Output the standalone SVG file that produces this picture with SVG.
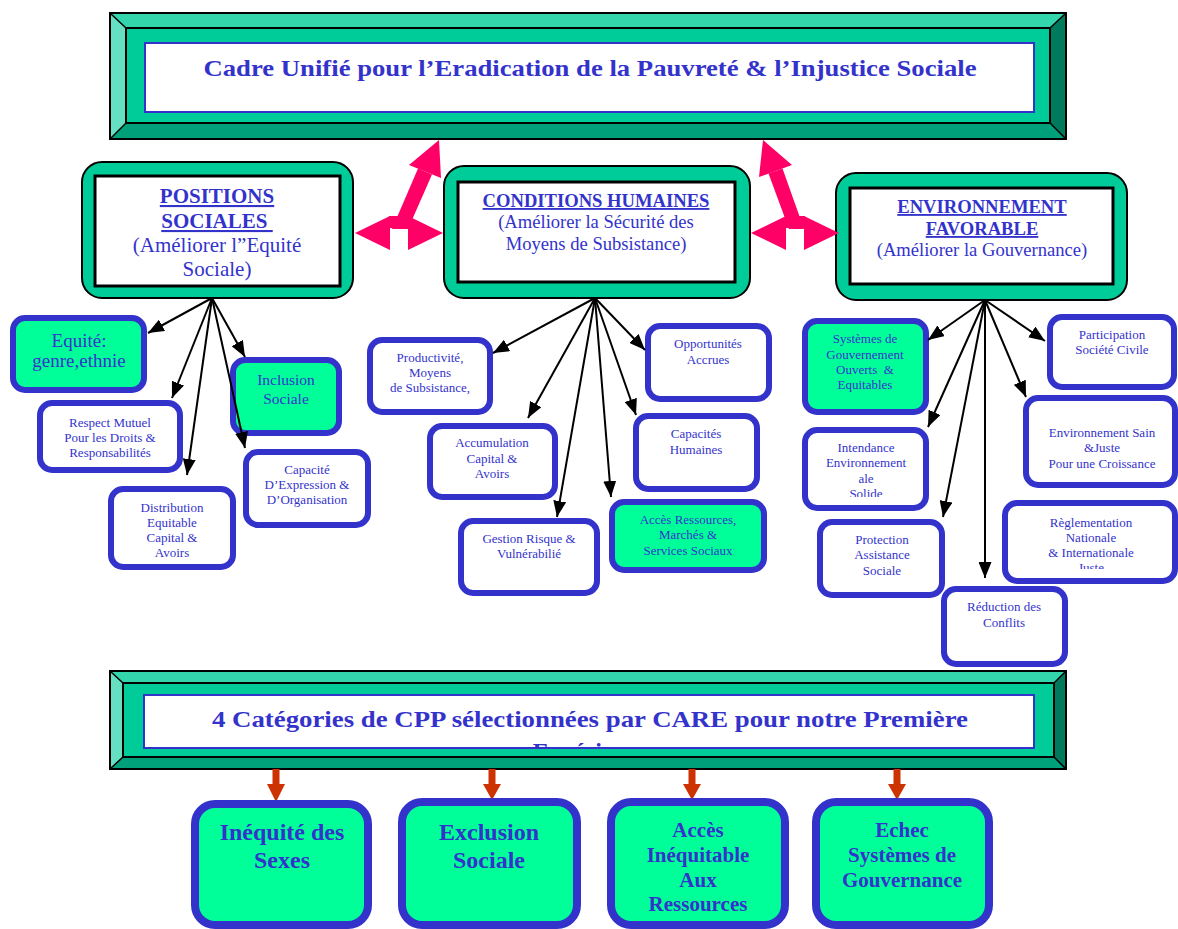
<svg xmlns="http://www.w3.org/2000/svg" width="1178" height="929" viewBox="0 0 1178 929">
<style>
text{font-family:"Liberation Serif","Times New Roman",serif;fill:#3333cc;text-anchor:middle}
.t{font-weight:bold;font-size:24px}
.h{font-weight:bold;font-size:18.6px;text-decoration:underline}
.hs{font-size:18.6px}
.hp{font-weight:bold;font-size:21px;text-decoration:underline}
.hps{font-size:21px}
.s{font-size:13px}
.m{font-size:15.5px}
.b{font-weight:bold;font-size:24px}
.b2{font-weight:bold;font-size:21px}
.nb{fill:#ffffff;stroke:#3333cc;stroke-width:6}
.ng{fill:#00ff99;stroke:#3333cc;stroke-width:6}
.nc{fill:#00ff99;stroke:#3333cc;stroke-width:8}
.mo{fill:#00cc99;stroke:#000;stroke-width:2}
.mi{fill:#ffffff;stroke:#000;stroke-width:3}
.bl{stroke:#000;stroke-width:1.5}
.face{fill:#00cc99;stroke:#000;stroke-width:2}
.wh{fill:#fff;stroke:#3333cc;stroke-width:2}
.pk{fill:#ff0066}
.rd{fill:#cc3300}
.cn{stroke:#000;stroke-width:2;fill:none;marker-end:url(#ah)}
</style>
<defs>
<marker id="ah" markerUnits="userSpaceOnUse" markerWidth="16" markerHeight="13" refX="16" refY="6.5" orient="auto">
<path d="M0,0 L16,6.5 L0,13 z" fill="#000"/>
</marker>
<clipPath id="c1"><rect x="800" y="425" width="140" height="72"/></clipPath>
<clipPath id="c2"><rect x="1000" y="500" width="178" height="69"/></clipPath>
<clipPath id="c3"><rect x="145" y="696" width="888" height="51"/></clipPath>
</defs>

<g id="top-banner">
<polygon points="110,13 1066,13 1050,28 126,28" fill="#33d6ac"/>
<polygon points="110,13 126,28 126,123 110,139" fill="#66e0c2"/>
<polygon points="110,139 126,123 1050,123 1066,139" fill="#00a07a"/>
<polygon points="1066,13 1066,139 1050,123 1050,28" fill="#007a5c"/>
<polygon points="110,13 1066,13 1066,139 110,139" fill="none" stroke="#000" stroke-width="2"/>
<line x1="110" y1="13" x2="126" y2="28" class="bl"/>
<line x1="1066" y1="13" x2="1050" y2="28" class="bl"/>
<line x1="110" y1="139" x2="126" y2="123" class="bl"/>
<line x1="1066" y1="139" x2="1050" y2="123" class="bl"/>
<rect x="126" y="28" width="924" height="95" class="face"/>
<rect x="145" y="43" width="889" height="69" class="wh"/>
<text class="t" x="590" y="76" textLength="773" lengthAdjust="spacingAndGlyphs">Cadre Unifié pour l’Eradication de la Pauvreté &amp; l’Injustice Sociale</text>
</g>

<g id="positions-sociales">
<rect x="82" y="162" width="271" height="136" rx="20" class="mo"/>
<rect x="95" y="176" width="245" height="110" class="mi"/>
<text class="hp" x="217" y="203">POSITIONS</text>
<text class="hp" x="217" y="228" xml:space="preserve">SOCIALES </text>
<text class="hps" x="217" y="252">(Améliorer l”Equité</text>
<text class="hps" x="217" y="276">Sociale)</text>
</g>

<g id="conditions-humaines">
<rect x="444" y="166" width="306" height="132" rx="20" class="mo"/>
<rect x="458" y="182" width="277" height="100" class="mi"/>
<text class="h" x="596" y="207">CONDITIONS HUMAINES</text>
<text class="hs" x="596" y="228">(Améliorer la Sécurité des</text>
<text class="hs" x="596" y="250">Moyens de Subsistance)</text>
</g>

<g id="environnement-favorable">
<rect x="836" y="173" width="291" height="127" rx="20" class="mo"/>
<rect x="850" y="188" width="263" height="96" class="mi"/>
<text class="h" x="982" y="213">ENVIRONNEMENT</text>
<text class="h" x="982" y="235">FAVORABLE</text>
<text class="hs" x="982" y="256">(Améliorer la Gouvernance)</text>
</g>

<g id="pink-arrows-left">
<polygon class="pk" points="355,233 390,216 390,250"/>
<polygon class="pk" points="443,233 408,216 408,250"/>
<rect class="pk" x="389" y="216" width="20" height="12"/>
<polygon class="pk" points="392,229 408,229 432,174.5 418,168.5"/>
<polygon class="pk" points="439,140 409,165 441,178"/>
</g>
<g id="pink-arrows-right">
<polygon class="pk" points="751,233 786,216 786,250"/>
<polygon class="pk" points="839,233 804,216 804,250"/>
<rect class="pk" x="785" y="216" width="20" height="12"/>
<polygon class="pk" points="789,229 804,229 782.5,168.5 768.5,173.5"/>
<polygon class="pk" points="763,140 759,177 792,165"/>
</g>

<g id="equite">
<rect x="13" y="318" width="131" height="72" rx="12" class="ng"/>
<text x="79" y="347" style="font-size:19px">Equité:</text>
<text x="79" y="367" style="font-size:19px">genre,ethnie</text>
</g>
<g id="respect-mutuel">
<rect x="40" y="403" width="140" height="67" rx="12" class="nb"/>
<text class="s" x="110" y="427">Respect Mutuel</text>
<text class="s" x="110" y="442">Pour les Droits &amp;</text>
<text class="s" x="110" y="457">Responsabilités</text>
</g>
<g id="distribution">
<rect x="111" y="489" width="122" height="78" rx="12" class="nb"/>
<text class="s" x="172" y="512">Distribution</text>
<text class="s" x="172" y="527">Equitable</text>
<text class="s" x="172" y="542">Capital &amp;</text>
<text class="s" x="172" y="557">Avoirs</text>
</g>
<g id="inclusion">
<rect x="233" y="360" width="106" height="73" rx="12" class="ng"/>
<text class="m" x="286" y="385">Inclusion</text>
<text class="m" x="286" y="404">Sociale</text>
</g>
<g id="capacite">
<rect x="246" y="452" width="122" height="73" rx="12" class="nb"/>
<text class="s" x="307" y="474">Capacité</text>
<text class="s" x="307" y="489">D’Expression &amp;</text>
<text class="s" x="307" y="504">D’Organisation</text>
</g>

<g id="productivite">
<rect x="370" y="340" width="120" height="72" rx="12" class="nb"/>
<text class="s" x="430" y="362">Productivité,</text>
<text class="s" x="430" y="377">Moyens</text>
<text class="s" x="430" y="392">de Subsistance,</text>
</g>
<g id="accumulation">
<rect x="430" y="426" width="125" height="71" rx="12" class="nb"/>
<text class="s" x="492" y="447">Accumulation</text>
<text class="s" x="492" y="463">Capital &amp;</text>
<text class="s" x="492" y="478">Avoirs</text>
</g>
<g id="gestion-risque">
<rect x="461" y="521" width="136" height="72" rx="12" class="nb"/>
<text class="s" x="529" y="543">Gestion Risque &amp;</text>
<text class="s" x="529" y="558">Vulnérabilié</text>
</g>
<g id="acces-ressources">
<rect x="612" y="502" width="152" height="68" rx="12" class="ng"/>
<text class="s" x="688" y="524">Accès Ressources,</text>
<text class="s" x="688" y="539">Marchés &amp;</text>
<text class="s" x="688" y="555">Services Sociaux</text>
</g>
<g id="capacites-humaines">
<rect x="636" y="416" width="121" height="73" rx="12" class="nb"/>
<text class="s" x="696" y="438">Capacités</text>
<text class="s" x="696" y="454">Humaines</text>
</g>
<g id="opportunites">
<rect x="648" y="326" width="121" height="73" rx="12" class="nb"/>
<text class="s" x="708" y="348">Opportunités</text>
<text class="s" x="708" y="364">Accrues</text>
</g>

<g id="systemes">
<rect x="805" y="321" width="121" height="91" rx="12" class="ng"/>
<text class="s" x="865" y="343">Systèmes de</text>
<text class="s" x="865" y="359">Gouvernement</text>
<text class="s" x="865" y="374" xml:space="preserve">Ouverts  &amp;</text>
<text class="s" x="865" y="389">Equitables</text>
</g>
<g id="intendance">
<rect x="805" y="430" width="121" height="78" rx="12" class="nb"/>
<g clip-path="url(#c1)">
<text class="s" x="866" y="452">Intendance</text>
<text class="s" x="866" y="467">Environnement</text>
<text class="s" x="866" y="483">ale</text>
<text class="s" x="866" y="498">Solide</text>
</g>
</g>
<g id="protection">
<rect x="820" y="522" width="122" height="73" rx="12" class="nb"/>
<text class="s" x="882" y="544">Protection</text>
<text class="s" x="882" y="559">Assistance</text>
<text class="s" x="882" y="575">Sociale</text>
</g>
<g id="reduction">
<rect x="944" y="589" width="121" height="75" rx="12" class="nb"/>
<text class="s" x="1004" y="611">Réduction des</text>
<text class="s" x="1004" y="627">Conflits</text>
</g>
<g id="participation">
<rect x="1050" y="317" width="124" height="70" rx="12" class="nb"/>
<text class="s" x="1112" y="339">Participation</text>
<text class="s" x="1112" y="354">Société Civile</text>
</g>
<g id="environnement-sain">
<rect x="1026" y="398" width="149" height="87" rx="12" class="nb"/>
<text class="s" x="1102" y="437">Environnement Sain</text>
<text class="s" x="1102" y="452">&amp;Juste</text>
<text class="s" x="1102" y="468">Pour une Croissance</text>
</g>
<g id="reglementation">
<rect x="1005" y="503" width="170" height="78" rx="12" class="nb"/>
<g clip-path="url(#c2)">
<text class="s" x="1091" y="527">Règlementation</text>
<text class="s" x="1091" y="542">Nationale</text>
<text class="s" x="1091" y="557">&amp; Internationale</text>
<text class="s" x="1091" y="572">Juste</text>
</g>
</g>

<g id="connectors">
<line class="cn" x1="212" y1="298" x2="148" y2="333"/>
<line class="cn" x1="212" y1="298" x2="172" y2="398"/>
<line class="cn" x1="212" y1="298" x2="187" y2="475"/>
<line class="cn" x1="212" y1="298" x2="245" y2="357"/>
<line class="cn" x1="212" y1="298" x2="245" y2="448"/>
<line class="cn" x1="595" y1="298" x2="493" y2="353"/>
<line class="cn" x1="595" y1="298" x2="528" y2="418"/>
<line class="cn" x1="595" y1="298" x2="557" y2="517"/>
<line class="cn" x1="595" y1="298" x2="611" y2="497"/>
<line class="cn" x1="595" y1="298" x2="636" y2="415"/>
<line class="cn" x1="595" y1="298" x2="645" y2="350"/>
<line class="cn" x1="985" y1="300" x2="928" y2="340"/>
<line class="cn" x1="985" y1="300" x2="928" y2="427"/>
<line class="cn" x1="985" y1="300" x2="943" y2="517"/>
<line class="cn" x1="985" y1="300" x2="985" y2="578"/>
<line class="cn" x1="985" y1="300" x2="1026" y2="397"/>
<line class="cn" x1="985" y1="300" x2="1045" y2="341"/>
</g>

<g id="bottom-banner">
<polygon points="110,671 1066,671 1054,683 123,683" fill="#33d6ac"/>
<polygon points="110,671 123,683 123,757 110,769" fill="#66e0c2"/>
<polygon points="110,769 123,757 1054,757 1066,769" fill="#00a07a"/>
<polygon points="1066,671 1066,769 1054,757 1054,683" fill="#007a5c"/>
<polygon points="110,671 1066,671 1066,769 110,769" fill="none" stroke="#000" stroke-width="2"/>
<line x1="110" y1="671" x2="123" y2="683" class="bl"/>
<line x1="1066" y1="671" x2="1054" y2="683" class="bl"/>
<line x1="110" y1="769" x2="123" y2="757" class="bl"/>
<line x1="1066" y1="769" x2="1054" y2="757" class="bl"/>
<rect x="123" y="683" width="931" height="74" class="face"/>
<rect x="144" y="695" width="890" height="53" class="wh"/>
<text class="t" x="590" y="727" textLength="756" lengthAdjust="spacingAndGlyphs">4 Catégories de CPP sélectionnées par CARE pour notre Première</text>
<g clip-path="url(#c3)"><text class="t" x="590" y="759">Expérience</text></g>
</g>

<g id="red-arrows">
<polygon class="rd" points="272.5,769 279.5,769 279.5,784 285,784 276,802 267,784 272.5,784"/>
<polygon class="rd" points="488.5,769 495.5,769 495.5,784 501,784 492,800 483,784 488.5,784"/>
<polygon class="rd" points="688.5,769 695.5,769 695.5,784 701,784 692,800 683,784 688.5,784"/>
<polygon class="rd" points="893.5,769 900.5,769 900.5,784 906,784 897,800 888,784 893.5,784"/>
</g>

<g id="inequite-sexes">
<rect x="195" y="804" width="173" height="121" rx="20" class="nc"/>
<text class="b" x="282" y="840">Inéquité des</text>
<text class="b" x="282" y="868">Sexes</text>
</g>
<g id="exclusion-sociale">
<rect x="402" y="802" width="175" height="123" rx="20" class="nc"/>
<text class="b" x="489" y="840">Exclusion</text>
<text class="b" x="489" y="868">Sociale</text>
</g>
<g id="acces-inequitable">
<rect x="611" y="802" width="174" height="123" rx="20" class="nc"/>
<text class="b2" x="698" y="837">Accès</text>
<text class="b2" x="698" y="862">Inéquitable</text>
<text class="b2" x="698" y="887">Aux</text>
<text class="b2" x="698" y="911">Ressources</text>
</g>
<g id="echec-gouvernance">
<rect x="816" y="802" width="173" height="123" rx="20" class="nc"/>
<text class="b2" x="902" y="837">Echec</text>
<text class="b2" x="902" y="862">Systèmes de</text>
<text class="b2" x="902" y="887">Gouvernance</text>
</g>
</svg>
